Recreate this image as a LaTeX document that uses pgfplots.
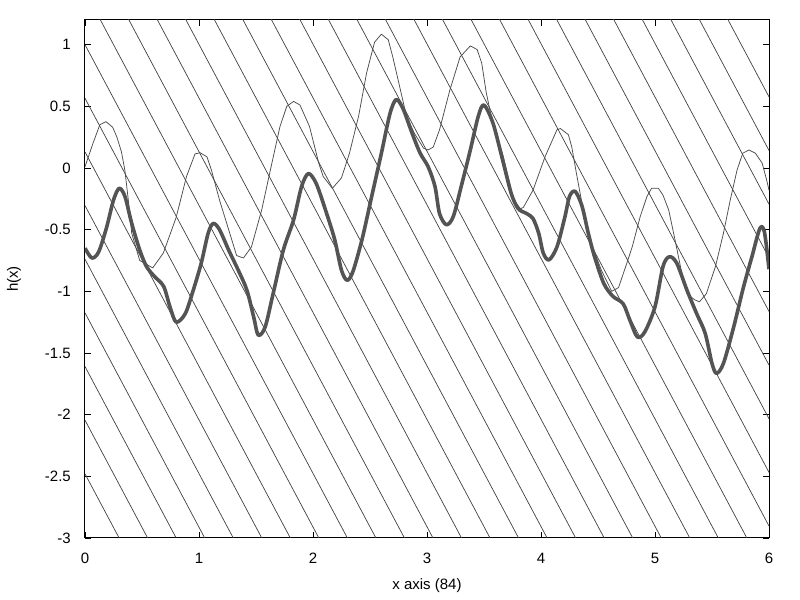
\documentclass[border=0pt]{standalone}
\usepackage{fontspec}
\setmainfont{Liberation Sans}
\usepackage{pgfplots}
\pgfplotsset{compat=1.18}

\begin{document}
\begin{tikzpicture}[font=\fontsize{15bp}{18bp}\selectfont]
\path[use as bounding box] (-85bp,-62bp) rectangle (715bp,538bp);
\begin{axis}[
    at={(0,0)}, anchor=south west,
    scale only axis,
    width=684bp, height=518bp,
    xmin=0, xmax=6, ymin=-3, ymax=1.2,
    xtick={0,1,2,3,4,5,6},
    xticklabels={0,1,2,3,4,5,6},
    ytick={-3,-2.5,-2,-1.5,-1,-0.5,0,0.5,1},
    yticklabels={-3,-2.5,-2,-1.5,-1,-0.5,0,0.5,1},
    tick align=inside,
    major tick length=6bp,
    tick style={black, line width=0.8bp},
    axis line style={black, line width=1bp},
    tick label style={font=\fontsize{15bp}{18bp}\selectfont},
    label style={font=\fontsize{15bp}{18bp}\selectfont},
    xticklabel style={inner sep=0pt, anchor=north, yshift=-15bp},
    yticklabel style={inner sep=0pt, anchor=east, xshift=-14bp},
    xlabel={x axis (84)},
    xlabel style={at={(axis description cs:0.5,0)}, anchor=base, yshift=-52bp},
    ylabel={h(x)},
    ylabel style={at={(axis description cs:-0.1038,0.5)}, anchor=center},
]
% hatch lines, y = c - 1.738 x
\addplot[black!75, line width=0.7bp, unbounded coords=jump] coordinates {
    (0,-2.48) (6,-12.908) (0,nan)
    (0,-2.045) (6,-12.473) (0,nan)
    (0,-1.61) (6,-12.038) (0,nan)
    (0,-1.175) (6,-11.603) (0,nan)
    (0,-0.74) (6,-11.168) (0,nan)
    (0,-0.305) (6,-10.733) (0,nan)
    (0,0.13) (6,-10.298) (0,nan)
    (0,0.565) (6,-9.863) (0,nan)
    (0,1.0) (6,-9.428) (0,nan)
    (0,1.435) (6,-8.993) (0,nan)
    (0,1.87) (6,-8.558) (0,nan)
    (0,2.305) (6,-8.123) (0,nan)
    (0,2.74) (6,-7.688) (0,nan)
    (0,3.175) (6,-7.253) (0,nan)
    (0,3.61) (6,-6.818) (0,nan)
    (0,4.045) (6,-6.383) (0,nan)
    (0,4.48) (6,-5.948) (0,nan)
    (0,4.915) (6,-5.513) (0,nan)
    (0,5.35) (6,-5.078) (0,nan)
    (0,5.785) (6,-4.643) (0,nan)
    (0,6.22) (6,-4.208) (0,nan)
    (0,6.655) (6,-3.773) (0,nan)
    (0,7.09) (6,-3.338) (0,nan)
    (0,7.525) (6,-2.903) (0,nan)
    (0,7.96) (6,-2.468) (0,nan)
    (0,8.395) (6,-2.033) (0,nan)
    (0,8.83) (6,-1.598) (0,nan)
    (0,9.265) (6,-1.163) (0,nan)
    (0,9.7) (6,-0.728) (0,nan)
    (0,10.135) (6,-0.293) (0,nan)
    (0,10.57) (6,0.142) (0,nan)
    (0,11.005) (6,0.577)
};
% thin curve
\addplot[black!70, line width=0.75bp, line join=round] coordinates {
    (0,0.01) (0.07,0.2) (0.13,0.35) (0.184,0.376) (0.243,0.33) (0.28,0.25)
    (0.32,0.13) (0.35,-0.02) (0.38,-0.26) (0.41,-0.53) (0.48,-0.75)
    (0.594,-0.81) (0.687,-0.69) (0.80,-0.40) (0.89,-0.07) (0.965,0.114)
    (1.01,0.124) (1.07,0.09) (1.11,-0.02) (1.18,-0.26) (1.27,-0.53)
    (1.33,-0.71) (1.39,-0.73) (1.46,-0.64) (1.55,-0.34) (1.63,0.0)
    (1.71,0.335) (1.77,0.50) (1.83,0.54) (1.886,0.51) (1.97,0.335)
    (2.05,0.04) (2.09,-0.07) (2.17,-0.165) (2.25,-0.08) (2.32,0.12)
    (2.40,0.42) (2.47,0.77) (2.54,1.02) (2.60,1.085) (2.66,1.04)
    (2.70,0.90) (2.76,0.66) (2.82,0.42) (2.89,0.28) (2.97,0.16)
    (3.01,0.146) (3.055,0.17) (3.11,0.31) (3.20,0.63) (3.29,0.90)
    (3.38,0.99) (3.44,0.96) (3.48,0.85) (3.52,0.61) (3.57,0.39)
    (3.67,0.09) (3.76,-0.26) (3.82,-0.33) (3.845,-0.32) (3.93,-0.18)
    (4.035,0.09) (4.14,0.31) (4.17,0.32) (4.24,0.27) (4.27,0.17)
    (4.31,-0.04) (4.37,-0.34) (4.44,-0.61) (4.53,-0.83) (4.62,-1.0)
    (4.68,-0.97) (4.75,-0.78) (4.80,-0.64) (4.87,-0.395) (4.93,-0.23)
    (4.97,-0.165) (5.03,-0.165) (5.07,-0.22) (5.12,-0.34) (5.175,-0.58)
    (5.23,-0.83) (5.28,-1.02) (5.35,-1.07) (5.39,-1.085) (5.45,-1.02)
    (5.53,-0.80) (5.60,-0.53) (5.66,-0.26) (5.72,-0.016) (5.77,0.12)
    (5.825,0.146) (5.88,0.12) (5.94,0.04) (5.98,-0.1) (6.0,-0.18)
};
% thick curve
\addplot[black!67, line width=3.6bp, line join=round, smooth, tension=0.5] coordinates {
    (0,-0.65) (0.06,-0.73) (0.12,-0.68) (0.19,-0.48) (0.25,-0.26)
    (0.30,-0.165) (0.35,-0.23) (0.41,-0.45) (0.48,-0.665) (0.54,-0.80)
    (0.61,-0.88) (0.69,-0.96) (0.745,-1.125) (0.80,-1.25) (0.88,-1.18)
    (0.95,-0.99) (1.02,-0.77) (1.08,-0.53) (1.125,-0.45) (1.18,-0.50)
    (1.26,-0.665) (1.345,-0.83) (1.42,-0.99) (1.48,-1.21) (1.52,-1.355)
    (1.58,-1.29) (1.65,-1.02) (1.74,-0.665) (1.83,-0.42) (1.90,-0.15)
    (1.96,-0.045) (2.03,-0.13) (2.12,-0.37) (2.19,-0.58) (2.25,-0.83)
    (2.30,-0.91) (2.35,-0.84) (2.43,-0.58) (2.515,-0.23) (2.60,0.12)
    (2.675,0.44) (2.73,0.555) (2.79,0.48) (2.87,0.28) (2.94,0.12)
    (3.01,0.01) (3.07,-0.15) (3.11,-0.37) (3.17,-0.46) (3.23,-0.395)
    (3.30,-0.15) (3.38,0.146) (3.45,0.42) (3.50,0.51) (3.58,0.36)
    (3.67,0.04) (3.74,-0.21) (3.80,-0.33) (3.875,-0.37) (3.93,-0.41)
    (3.98,-0.53) (4.02,-0.69) (4.07,-0.745) (4.14,-0.64) (4.21,-0.395)
    (4.25,-0.23) (4.30,-0.19) (4.36,-0.31) (4.415,-0.53) (4.47,-0.72)
    (4.55,-0.935) (4.63,-1.04) (4.72,-1.10) (4.78,-1.235) (4.845,-1.37)
    (4.91,-1.33) (5.0,-1.125) (5.07,-0.80) (5.125,-0.72) (5.19,-0.77)
    (5.28,-0.99) (5.365,-1.18) (5.44,-1.34) (5.50,-1.585) (5.54,-1.665)
    (5.60,-1.585) (5.69,-1.29) (5.775,-0.97) (5.85,-0.72) (5.92,-0.49)
    (5.96,-0.52) (6.0,-0.82)
};
\end{axis}
\end{tikzpicture}
\end{document}
